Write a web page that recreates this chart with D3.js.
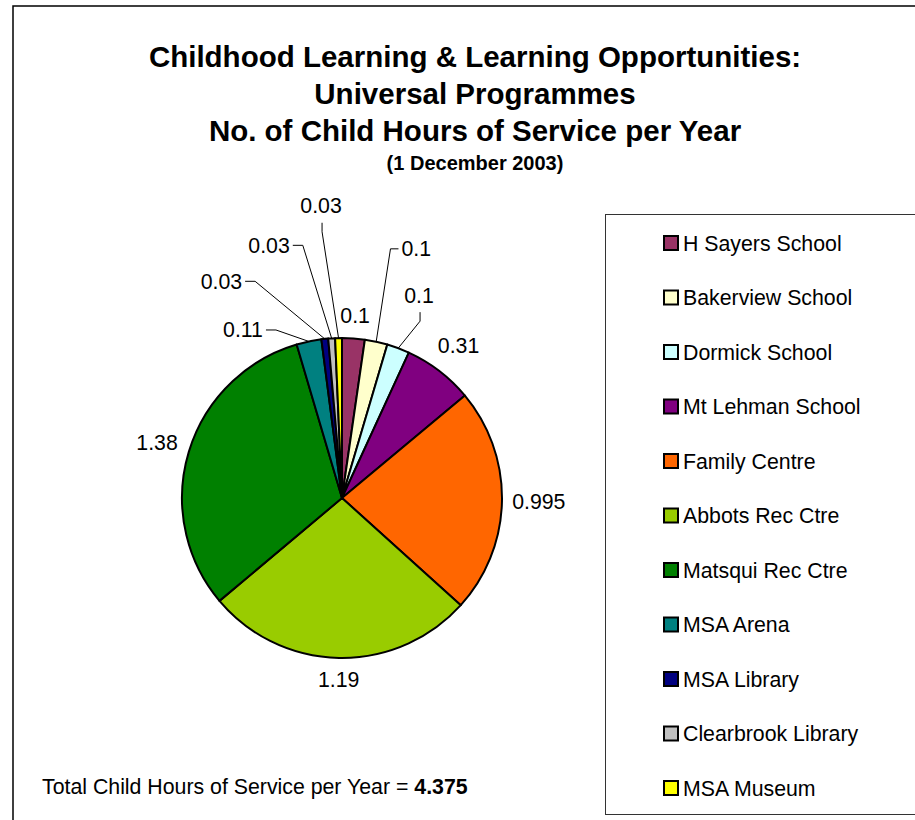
<html>
<head>
    <script src="https://cdnjs.cloudflare.com/ajax/libs/d3/7.8.5/d3.min.js"></script>
    <style>
        body { margin: 0; background: #fff; }
        svg { font-family: "Liberation Sans", Arial, sans-serif; }
    </style>
</head>
<body>
    <svg id="CANVAS"></svg>
    <script>
        // chart data
        var CATEGORIES = ["H Sayers School", "Bakerview School", "Dormick School", "Mt Lehman School",
            "Family Centre", "Abbots Rec Ctre", "Matsqui Rec Ctre", "MSA Arena", "MSA Library",
            "Clearbrook Library", "MSA Museum"];
        var HOURS = [0.1, 0.1, 0.1, 0.31, 0.995, 1.19, 1.38, 0.11, 0.03, 0.03, 0.03];
        var COLOURS = ["#993366", "#FFFFCC", "#CCFFFF", "#800080", "#FF6600", "#99CC00",
            "#008000", "#008080", "#000080", "#C0C0C0", "#FFFF00"];
        var TITLE_LINES = ["Childhood Learning & Learning Opportunities:", "Universal Programmes",
            "No. of Child Hours of Service per Year"];
        var SUBTITLE = "(1 December 2003)";
        var TOTAL_TEXT = "Total Child Hours of Service per Year = ";

        var W = 915, H = 820;
        var CX = 342, CY = 498, R = 160;
        var FONT = 21.3;

        // labels moved out with leader lines (angle in degrees, radius from centre)
        var LABEL_MOVES = {
            "Bakerview School": { a: 16.6, r: 260, attach: "left" },
            "Dormick School": { a: 20.8, r: 217, attach: "bottom" },
            "MSA Arena": { a: 329.5, r: 195, attach: "right" },
            "MSA Library": { a: 330.9, r: 248, attach: "right" },
            "Clearbrook Library": { a: 343.9, r: 263, attach: "right" },
            "MSA Museum": { a: 355.9, r: 293, attach: "bottom" }
        };

        var svg = d3.select("#CANVAS").attr("width", W).attr("height", H);

        // outer frame
        svg.append("rect")
            .attr("x", 13).attr("y", 6).attr("width", W + 20).attr("height", H + 20)
            .attr("fill", "none").attr("stroke", "#000").attr("stroke-width", 1.5);

        // titles
        var title = svg.append("g").attr("text-anchor", "middle").attr("font-weight", "bold");
        title.selectAll("text.T")
            .data(TITLE_LINES)
            .enter().append("text")
            .attr("class", "T")
            .attr("x", 475)
            .attr("y", function (d, i) { return 67 + i * 37; })
            .attr("font-size", 29.5)
            .text(function (d) { return d; });
        title.append("text")
            .attr("x", 475).attr("y", 170)
            .attr("font-size", 20)
            .text(SUBTITLE);

        // pie
        var rows = CATEGORIES.map(function (c, i) { return { name: c, value: HOURS[i], colour: COLOURS[i] }; });
        var pie = d3.pie().sort(null).value(function (d) { return d.value; });
        var arc = d3.arc().innerRadius(0).outerRadius(R);
        var arcs = pie(rows);

        var G = svg.append("g").attr("transform", "translate(" + CX + "," + CY + ")");
        G.selectAll("path.SLICE")
            .data(arcs)
            .enter().append("path")
            .attr("class", "SLICE")
            .attr("d", arc)
            .attr("fill", function (d) { return d.data.colour; })
            .attr("stroke", "#000")
            .attr("stroke-width", 2)
            .attr("stroke-linejoin", "round");

        // data labels
        var labels = G.selectAll("g.LBL").data(arcs).enter().append("g").attr("class", "LBL");
        labels.each(function (d) {
            var g = d3.select(this);
            var t = g.append("text")
                .attr("font-size", FONT)
                .attr("text-anchor", "middle")
                .text(String(d.data.value));
            var tw = t.node().getComputedTextLength();
            var th = 23;
            var mid = (d.startAngle + d.endAngle) / 2;
            var mv = LABEL_MOVES[d.data.name];
            var lx, ly;
            if (!mv) {
                var lr = R + 10 + (tw / 2) * Math.abs(Math.sin(mid)) + (th / 2) * Math.abs(Math.cos(mid));
                lx = lr * Math.sin(mid);
                ly = -lr * Math.cos(mid);
            } else {
                var a = mv.a * Math.PI / 180;
                lx = mv.r * Math.sin(a);
                ly = -mv.r * Math.cos(a);
                var sx = R * Math.sin(mid), sy = -R * Math.cos(mid);
                var ex, ey, kx, ky;
                if (mv.attach === "left") {
                    ex = lx - tw / 2 - 3; ey = ly; kx = ex - 8; ky = ey;
                } else if (mv.attach === "right") {
                    ex = lx + tw / 2 + 3; ey = ly; kx = ex + 10; ky = ey;
                } else {
                    ex = lx + 1; ey = ly + 17; kx = ex; ky = ey + 9;
                }
                g.insert("path", "text")
                    .attr("d", d3.line()([[sx, sy], [kx, ky], [ex, ey]]))
                    .attr("fill", "none")
                    .attr("stroke", "#000")
                    .attr("stroke-width", 1);
            }
            t.attr("x", lx).attr("y", ly + 7.5);
        });

        // legend
        var legend = svg.append("g");
        legend.append("rect")
            .attr("x", 605.5).attr("y", 214.5).attr("width", 340).attr("height", 600)
            .attr("fill", "#fff").attr("stroke", "#333").attr("stroke-width", 1);
        var ly = d3.scalePoint().domain(CATEGORIES).range([243, 788]);
        var item = legend.selectAll("g.ITEM")
            .data(rows)
            .enter().append("g")
            .attr("class", "ITEM")
            .attr("transform", function (d) { return "translate(0," + ly(d.name) + ")"; });
        item.append("rect")
            .attr("x", 664).attr("y", -7).attr("width", 14).attr("height", 14)
            .attr("fill", function (d) { return d.colour; })
            .attr("stroke", "#000").attr("stroke-width", 2);
        item.append("text")
            .attr("x", 683).attr("y", 7.5)
            .attr("font-size", FONT)
            .text(function (d) { return d.name; });

        // total
        var total = svg.append("text").attr("x", 42).attr("y", 794).attr("font-size", FONT);
        total.append("tspan").text(TOTAL_TEXT);
        total.append("tspan").attr("font-weight", "bold").text(d3.format(".3f")(d3.sum(HOURS)));
    </script>
</body>
</html>
